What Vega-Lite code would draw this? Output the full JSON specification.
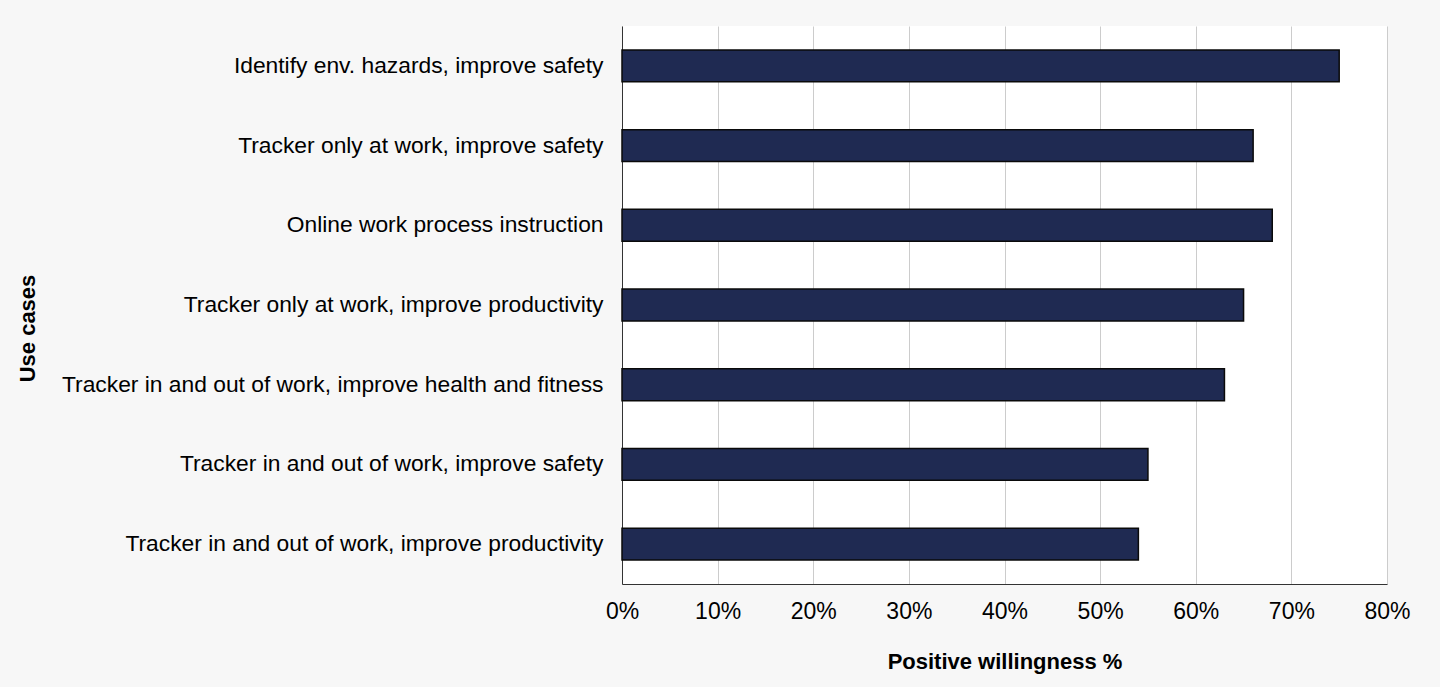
{
  "$schema": "https://vega.github.io/schema/vega-lite/v6.json",
  "autosize": "none",
  "width": 765,
  "height": 558,
  "padding": {"left": 622, "top": 26, "right": 53, "bottom": 103},
  "background": "#f7f7f7",
  "config": {
    "font": "Liberation Sans",
    "view": {"fill": "white", "stroke": null}
  },
  "data": {
    "values": [
      {"use_case": "Identify env. hazards, improve safety", "willingness": 75},
      {"use_case": "Tracker only at work, improve safety", "willingness": 66},
      {"use_case": "Online work process instruction", "willingness": 68},
      {"use_case": "Tracker only at work, improve productivity", "willingness": 65},
      {"use_case": "Tracker in and out of work, improve health and fitness", "willingness": 63},
      {"use_case": "Tracker in and out of work, improve safety", "willingness": 55},
      {"use_case": "Tracker in and out of work, improve productivity", "willingness": 54}
    ]
  },
  "mark": {"type": "bar", "fill": "#1f2a52", "stroke": "#0a0a0a", "strokeWidth": 1.5},
  "encoding": {
    "y": {
      "field": "use_case",
      "type": "nominal",
      "sort": null,
      "scale": {"paddingInner": 0.6, "paddingOuter": 0.3},
      "axis": {
        "title": "Use cases",
        "titleFontSize": 22,
        "titleFontWeight": "bold",
        "titleColor": "black",
        "titleX": -595,
        "titleY": 302,
        "titleBaseline": "middle",
        "labelFontSize": 22.8,
        "labelColor": "black",
        "labelPadding": 19,
        "labelLimit": 700,
        "ticks": false,
        "domainColor": "#333333",
        "domainWidth": 1
      }
    },
    "x": {
      "field": "willingness",
      "type": "quantitative",
      "scale": {"domain": [0, 80]},
      "axis": {
        "title": "Positive willingness %",
        "titleFontSize": 22,
        "titleFontWeight": "bold",
        "titleColor": "black",
        "titlePadding": 28,
        "labelFontSize": 23,
        "labelColor": "black",
        "labelPadding": 16,
        "labelFlush": false,
        "labelExpr": "datum.value + '%'",
        "values": [0, 10, 20, 30, 40, 50, 60, 70, 80],
        "ticks": false,
        "grid": true,
        "gridColor": "#cccccc",
        "domainColor": "#333333",
        "domainWidth": 1
      }
    }
  }
}
